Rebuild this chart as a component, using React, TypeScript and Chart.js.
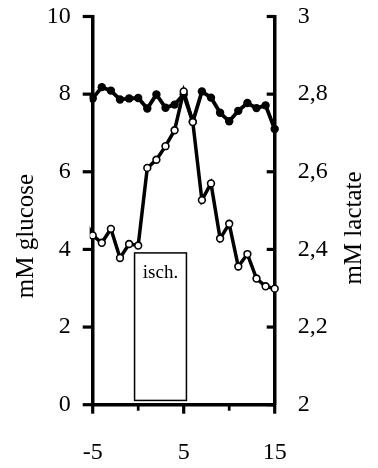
import React, { useEffect, useRef } from 'react';
import { Chart, registerables } from 'chart.js';

Chart.register(...registerables);

// ---- data ----
const minutes = [-6, -5, -4, -3, -2, -1, 0, 1, 2, 3, 4, 5, 6, 7, 8, 9, 10, 11, 12, 13, 14, 15, 16];
const glucose = [4.8, 4.36, 4.17, 4.53, 3.78, 4.14, 4.1, 6.1, 6.31, 6.66, 7.07, 8.07, 7.28, 5.27, 5.7, 4.28, 4.66, 3.56, 3.88, 3.25, 3.05, 2.99, 1.4];
const lactate = [2.8, 2.789, 2.818, 2.809, 2.786, 2.789, 2.79, 2.763, 2.799, 2.765, 2.773, 2.799, 2.729, 2.807, 2.791, 2.752, 2.73, 2.757, 2.777, 2.764, 2.771, 2.71, 2.77];

const xTickValues = [-5, 5, 15];
const xMinorTickValues = [0, 10];
const glucoseTickValues = [0, 2, 4, 6, 8, 10];
const lactateTickValues = [2, 2.2, 2.4, 2.6, 2.8, 3];
const lactateTickLabels = ['2', '2,2', '2,4', '2,6', '2,8', '3'];

const glucoseTitle = 'mM glucose';
const lactateTitle = 'mM lactate';
const ischemiaLabel = 'isch.';
const ischemiaRange = [-0.4, 5.3]; // minutes
const ischemiaHeight = [0.11, 3.91]; // mM glucose scale

const FONT = "'Liberation Serif', 'Times New Roman', serif";

const decorPlugin = {
  id: 'decor',
  beforeDatasetsDraw(chart: any) {
    const { ctx, scales } = chart;
    const x = scales.x;
    const y = scales.yL;
    const l = x.getPixelForValue(ischemiaRange[0]);
    const r = x.getPixelForValue(ischemiaRange[1]);
    const t = y.getPixelForValue(ischemiaHeight[1]);
    const b = y.getPixelForValue(ischemiaHeight[0]);
    ctx.save();
    ctx.strokeStyle = '#000';
    ctx.lineWidth = 1.5;
    ctx.strokeRect(l, t, r - l, b - t);
    ctx.fillStyle = '#000';
    ctx.font = `19px ${FONT}`;
    ctx.textAlign = 'center';
    ctx.textBaseline = 'alphabetic';
    ctx.fillText(ischemiaLabel, (l + r) / 2, t + 25);
    ctx.restore();
  },
  afterDraw(chart: any) {
    const { ctx, scales, chartArea } = chart;
    const x = scales.x;
    const yL = scales.yL;
    const yR = scales.yR;
    ctx.save();
    ctx.strokeStyle = '#000';
    ctx.lineCap = 'butt';
    // left axis ticks (outward)
    ctx.lineWidth = 3.2;
    glucoseTickValues.forEach((v) => {
      const py = yL.getPixelForValue(v);
      ctx.beginPath();
      ctx.moveTo(chartArea.left - 10, py);
      ctx.lineTo(chartArea.left + 1, py);
      ctx.stroke();
    });
    // right axis ticks (inward)
    lactateTickValues.forEach((v) => {
      const py = yR.getPixelForValue(v);
      ctx.beginPath();
      ctx.moveTo(chartArea.right - 8, py);
      ctx.lineTo(chartArea.right, py);
      ctx.stroke();
    });
    // x ticks (outward)
    xTickValues.forEach((v) => {
      const px = x.getPixelForValue(v);
      ctx.beginPath();
      ctx.moveTo(px, chartArea.bottom);
      ctx.lineTo(px, chartArea.bottom + 9);
      ctx.stroke();
    });
    ctx.lineWidth = 2.7;
    xMinorTickValues.forEach((v) => {
      const px = x.getPixelForValue(v);
      ctx.beginPath();
      ctx.moveTo(px, chartArea.bottom);
      ctx.lineTo(px, chartArea.bottom + 6);
      ctx.stroke();
    });
    // axis titles
    ctx.fillStyle = '#000';
    ctx.font = `25px ${FONT}`;
    ctx.textAlign = 'center';
    ctx.textBaseline = 'middle';
    ctx.translate(26, 236);
    ctx.rotate(-Math.PI / 2);
    ctx.fillText(glucoseTitle, 0, 0);
    ctx.setTransform(1, 0, 0, 1, 0, 0);
    ctx.translate(354, 228);
    ctx.rotate(-Math.PI / 2);
    ctx.fillText(lactateTitle, 0, 0);
    ctx.restore();
  },
};

const noPad = (s: any) => {
  s.paddingTop = 0;
  s.paddingBottom = 0;
  s.paddingLeft = 0;
  s.paddingRight = 0;
};

export default function App() {
  const ref = useRef<HTMLCanvasElement | null>(null);

  useEffect(() => {
    if (!ref.current) return;
    Chart.defaults.font.family = FONT;
    Chart.defaults.color = '#000';
    const inRange = (ctx: any) => {
      const v = minutes[ctx.dataIndex];
      return v >= -5 && v <= 15;
    };
    const clip = { left: 3, right: 7, top: 20, bottom: 20 };
    const chart = new Chart(ref.current, {
      type: 'line',
      data: {
        datasets: [
          {
            label: 'glucose',
            data: minutes.map((m, i) => ({ x: m, y: glucose[i] })),
            yAxisID: 'yL',
            borderColor: '#000',
            borderWidth: 3.5,
            tension: 0,
            pointRadius: (c: any) => (inRange(c) ? 3.4 : 0),
            pointBackgroundColor: '#fff',
            pointBorderColor: '#000',
            pointBorderWidth: 1.6,
            clip,
          } as any,
          {
            label: 'lactate',
            data: minutes.map((m, i) => ({ x: m, y: lactate[i] })),
            yAxisID: 'yR',
            borderColor: '#000',
            borderWidth: 3.8,
            tension: 0,
            pointRadius: (c: any) => (inRange(c) ? 4.2 : 0),
            pointBackgroundColor: '#000',
            pointBorderColor: '#000',
            pointBorderWidth: 0,
            clip,
          } as any,
        ],
      },
      options: {
        responsive: false,
        animation: false,
        layout: { padding: { top: 16.5, left: 0, right: 0, bottom: 0 } },
        plugins: { legend: { display: false }, tooltip: { enabled: false } },
        scales: {
          x: {
            type: 'linear',
            min: -5,
            max: 15,
            afterBuildTicks: (s: any) => {
              s.ticks = xTickValues.map((v) => ({ value: v }));
            },
            afterFit: (s: any) => {
              s.height = 63.3;
              noPad(s);
            },
            grid: { display: false, drawTicks: false },
            border: { display: true, width: 3.5, color: '#000' },
            ticks: { padding: 34, font: { size: 24, family: FONT }, color: '#000', maxRotation: 0, callback: (v: any) => String(v) },
          },
          yL: {
            type: 'linear',
            position: 'left',
            min: 0,
            max: 10,
            afterBuildTicks: (s: any) => {
              s.ticks = glucoseTickValues.map((v) => ({ value: v }));
            },
            afterFit: (s: any) => {
              s.width = 92.7;
              noPad(s);
            },
            grid: { display: false, drawTicks: false },
            border: { display: true, width: 3.5, color: '#000' },
            ticks: { padding: 22, font: { size: 24, family: FONT }, color: '#000', callback: (v: any) => String(v) },
          },
          yR: {
            type: 'linear',
            position: 'right',
            min: 2,
            max: 3,
            afterBuildTicks: (s: any) => {
              s.ticks = lactateTickValues.map((v) => ({ value: v }));
            },
            afterFit: (s: any) => {
              s.width = 378 - 274.7;
              noPad(s);
            },
            grid: { display: false, drawTicks: false },
            border: { display: true, width: 3.5, color: '#000' },
            ticks: {
              padding: 23,
              font: { size: 24, family: FONT },
              color: '#000',
              callback: (_v: any, i: number) => lactateTickLabels[i],
            },
          },
        },
      },
      plugins: [decorPlugin],
    });
    return () => chart.destroy();
  }, []);

  return (
    <div style={{ position: 'fixed', left: 0, top: 0, width: 378, height: 468, background: '#fff' }}>
      <canvas ref={ref} width={378} height={468} style={{ display: 'block', width: 378, height: 468 }} />
    </div>
  );
}
